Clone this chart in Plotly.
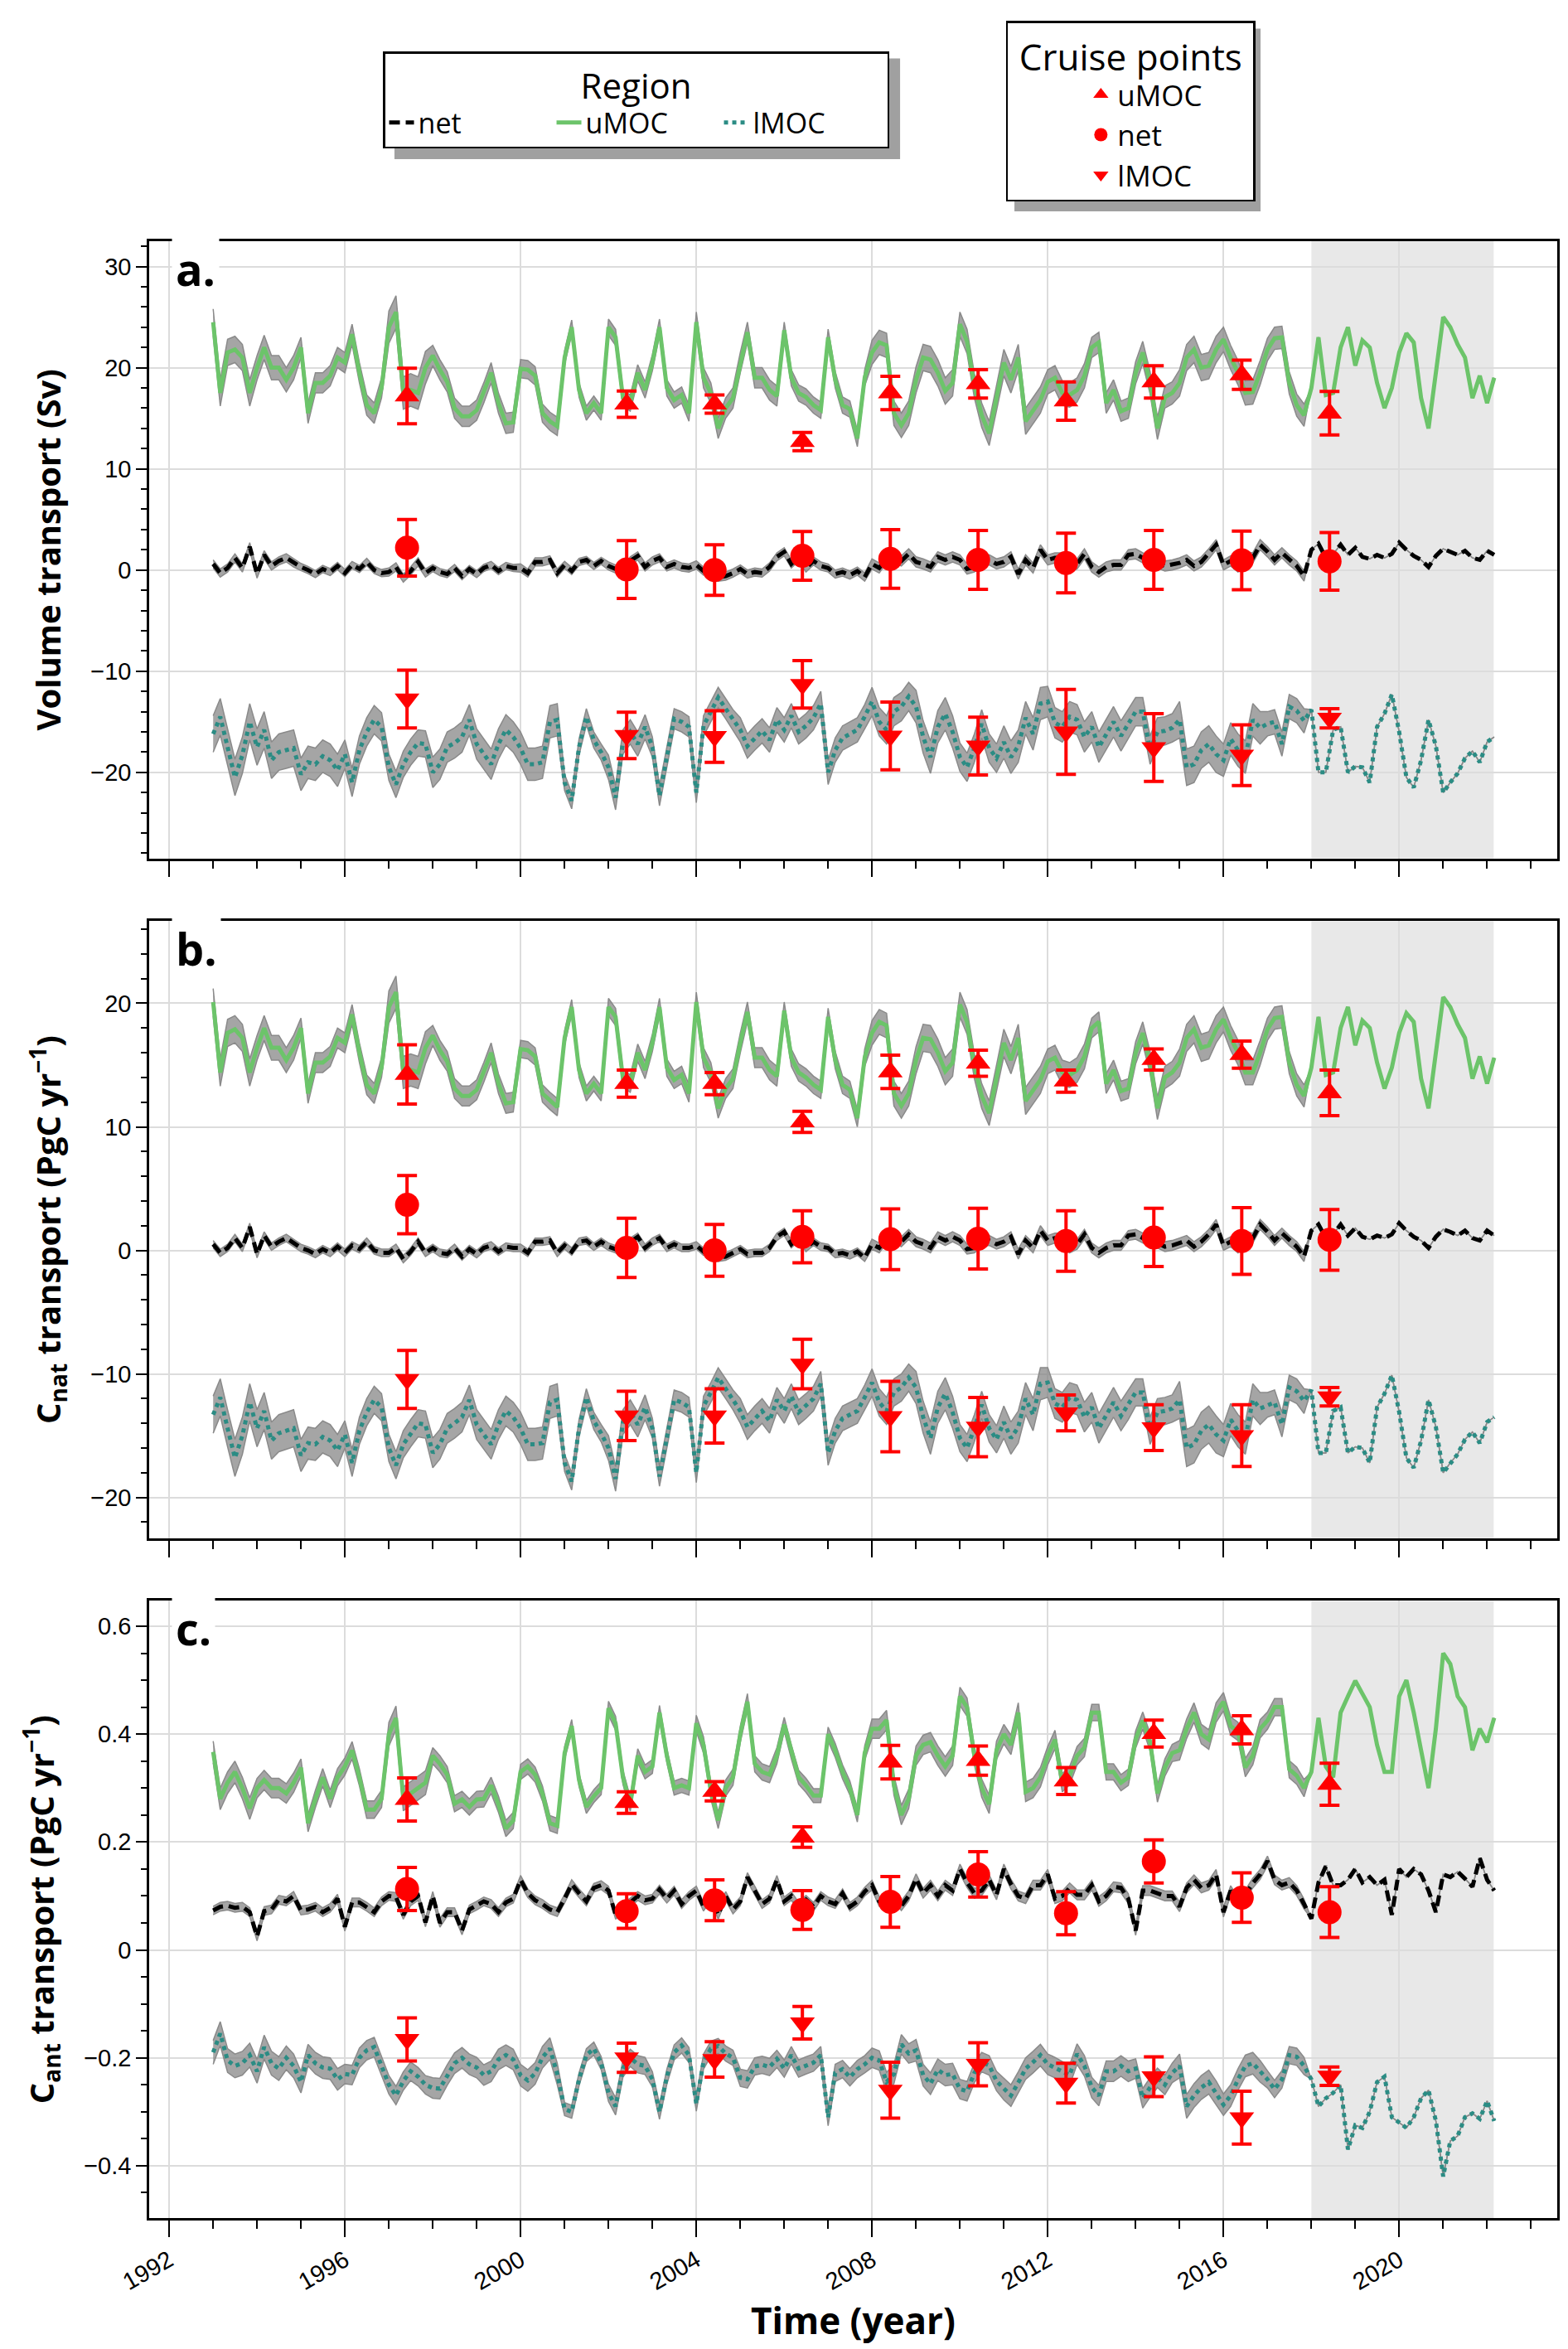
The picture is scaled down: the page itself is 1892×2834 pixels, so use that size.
import pandas as pd
import plotly.graph_objects as go
from plotly.subplots import make_subplots

# bimonthly model output, Jan 1993 .. Mar 2022 (6 values per year)
dates = pd.date_range("1993-01-01", periods=176, freq="2MS")

# ---- panel a: volume transport (Sv)
a_umoc = [
    24.5, 17.5, 21.5, 21.8, 21.0, 17.5,
    20.0, 22.0, 20.0, 20.0, 18.8, 20.0,
    22.0, 15.5, 18.5, 18.5, 19.2, 21.0,
    20.5, 23.3, 19.5, 16.3, 15.5, 18.0,
    24.0, 25.5, 17.5, 17.8, 17.5, 20.0,
    21.2, 19.8, 18.6, 16.0, 15.2, 15.2,
    15.8, 17.5, 19.5, 16.5, 14.5, 14.6,
    19.9, 19.8, 19.2, 15.5, 14.7, 14.2,
    21.0, 24.0, 17.8, 15.5, 16.5, 15.5,
    24.0, 23.0, 17.0, 16.5, 19.5, 17.8,
    20.5, 24.0, 18.0, 16.8, 17.3, 15.5,
    24.5, 19.0, 17.5, 14.0, 16.0, 17.0,
    20.5, 23.5, 19.0, 19.0, 17.8, 17.2,
    23.7, 19.0, 17.5, 17.1, 16.3, 15.8,
    23.0, 18.8, 16.3, 15.9, 13.0, 19.0,
    21.5, 22.5, 22.2, 15.5, 14.3, 15.5,
    18.8, 21.0, 20.8, 19.5, 17.7, 18.5,
    24.3, 22.6, 18.2, 15.3, 13.5, 17.0,
    20.5, 18.8, 21.0, 14.7, 15.8, 16.8,
    18.6, 19.0, 17.5, 17.3, 17.8, 19.2,
    22.0, 22.5, 16.5, 17.8, 15.7, 16.0,
    19.5, 21.5, 18.5, 14.0, 17.1, 17.5,
    18.5, 21.0, 21.8, 20.0, 20.2, 21.8,
    22.8, 21.0, 19.5, 17.5, 17.6, 19.5,
    21.8, 22.9, 23.0, 18.5, 16.3, 15.3,
    18.0, 23.0, 17.3, 17.5, 22.0, 24.0,
    20.2, 22.7, 22.0, 18.5, 16.0, 18.0,
    21.5, 23.4, 22.5, 17.0, 14.0, 19.5,
    25.0, 24.0, 22.3, 21.0, 17.0, 19.2,
    16.5, 19.0,
]
a_net = [
    0.6, -0.3, 0.2, 1.2, 0.2, 2.3,
    -0.4, 1.5, 0.4, 0.9, 1.2, 0.7,
    0.3, 0.0, -0.4, 0.1, -0.2, 0.4,
    -0.3, 0.5, 0.1, 0.8, 0.0, -0.3,
    -0.2, 0.3, -0.8, -0.1, 0.8, -0.3,
    0.2, -0.2, -0.4, 0.2, -0.6, 0.1,
    -0.4, 0.2, 0.5, -0.1, 0.4, 0.2,
    0.2, -0.3, 0.8, 0.8, 1.0, -0.3,
    0.5, -0.1, 0.8, 1.0, 0.4, 0.9,
    0.4, 0.1, -0.4, 0.9, 1.4, 0.3,
    0.9, 1.2, 0.3, 0.6, 0.3, 0.2,
    0.5, -0.1, 0.3, -0.7, -0.6, -0.3,
    0.1, -0.4, -0.2, -0.3, 0.3, 1.3,
    1.8, 0.6, 1.3, 0.2, 0.9, 0.4,
    0.2, -0.4, -0.2, -0.5, -0.1, -0.7,
    0.6, 0.2, 1.2, 1.2, 0.9, 1.6,
    0.8, 0.6, 0.3, 1.3, 1.0, 1.3,
    1.0, 0.1, 0.3, 0.9, 1.0, 0.6,
    0.8, 1.3, -0.4, 1.0, 0.2, 2.0,
    1.0, 1.2, 1.2, 0.3, 0.6, 1.6,
    0.3, -0.2, 0.3, 0.5, 0.5, 1.5,
    1.6, 1.2, 1.0, 0.7, 0.4, 0.5,
    0.7, 1.0, 0.4, 0.8, 1.6, 2.5,
    0.5, 0.9, 0.3, 1.3, 1.2, 2.5,
    1.8, 1.0, 1.7, 1.0, 0.4, -0.6,
    2.0, 2.6, 1.2, 1.6, 2.5, 1.5,
    2.2, 1.3, 1.1, 1.5, 1.2, 1.6,
    2.7, 2.0, 1.4, 1.0, 0.3, 1.4,
    2.1, 1.8, 1.5, 1.9, 1.2, 1.0,
    1.9, 1.5,
]
a_lmoc = [
    -16.2, -14.5, -17.5, -20.5, -18.3, -15.0,
    -17.5, -15.8, -18.8, -18.0, -17.8, -17.6,
    -20.2, -19.0, -19.2, -18.4, -18.8, -19.8,
    -18.2, -21.0, -17.8, -16.0, -14.8, -15.5,
    -19.5, -21.2, -19.2, -18.0, -17.1, -17.2,
    -20.0, -19.2, -17.5, -17.1, -16.5, -14.8,
    -17.2, -18.2, -19.2, -17.2, -15.8, -16.5,
    -17.6, -19.2, -19.2, -19.0, -15.0, -14.8,
    -21.0, -22.8, -17.5, -14.5, -16.8, -18.0,
    -19.5, -22.5, -17.0, -16.0, -17.2, -15.5,
    -17.5, -22.3, -18.5, -14.7, -15.0, -15.5,
    -22.0, -15.4, -14.0, -12.6, -13.7, -14.8,
    -15.8, -17.4, -16.6, -15.9, -16.8, -14.8,
    -15.8, -14.4, -16.0, -15.4, -14.6, -13.2,
    -20.0, -17.8, -16.6, -16.2, -15.8, -14.5,
    -13.0, -15.0, -15.8, -14.0, -13.5, -12.5,
    -13.5, -16.5, -18.5, -15.5, -14.2, -16.0,
    -18.5, -19.5, -17.6, -15.2, -17.6, -18.6,
    -17.0, -18.5, -17.4, -14.6, -16.2, -13.2,
    -13.0, -15.1, -15.5, -14.5, -14.8, -16.5,
    -15.5, -17.5, -16.2, -15.0, -16.4, -15.2,
    -14.0, -14.0, -17.8, -16.0, -15.9, -15.6,
    -14.8, -19.5, -19.2, -17.8, -17.2, -18.2,
    -18.8, -16.7, -17.8, -18.5, -14.8, -15.6,
    -15.2, -15.0, -17.2, -13.5, -13.9, -14.9,
    -13.8, -20.0, -20.0, -15.8, -15.5, -20.0,
    -19.4, -19.5, -21.0, -15.5, -14.2, -12.3,
    -16.0, -20.5, -21.5, -18.8, -14.8, -17.4,
    -22.0, -21.0, -20.1, -18.6, -17.9, -19.0,
    -17.0, -16.5,
]

# ---- panel b: Cnat transport (PgC/yr)
b_umoc = [
    20.1, 14.4, 17.6, 17.9, 17.2, 14.4,
    16.4, 18.0, 16.4, 16.4, 15.4, 16.4,
    18.0, 12.7, 15.2, 15.2, 15.7, 17.2,
    16.8, 19.1, 16.0, 13.4, 12.7, 14.8,
    19.7, 20.9, 14.4, 14.6, 14.4, 16.4,
    17.4, 16.2, 15.3, 13.1, 12.5, 12.5,
    13.0, 14.4, 16.0, 13.5, 11.9, 12.0,
    16.3, 16.2, 15.7, 12.7, 12.1, 11.6,
    17.2, 19.7, 14.6, 12.7, 13.5, 12.7,
    19.7, 18.9, 13.9, 13.5, 16.0, 14.6,
    16.8, 19.7, 14.8, 13.8, 14.2, 12.7,
    20.1, 15.6, 14.4, 11.5, 13.1, 13.9,
    16.8, 19.3, 15.6, 15.6, 14.6, 14.1,
    19.4, 15.6, 14.4, 14.0, 13.4, 13.0,
    18.9, 15.4, 13.4, 13.0, 10.7, 15.6,
    17.6, 18.5, 18.2, 12.7, 11.7, 12.7,
    15.4, 17.2, 17.1, 16.0, 14.5, 15.2,
    19.9, 18.5, 14.9, 12.5, 11.1, 13.9,
    16.8, 15.4, 17.2, 12.1, 13.0, 13.8,
    15.3, 15.6, 14.4, 14.2, 14.6, 15.7,
    18.0, 18.5, 13.5, 14.6, 12.9, 13.1,
    16.0, 17.6, 15.2, 11.5, 14.0, 14.4,
    15.2, 17.2, 17.9, 16.4, 16.6, 17.9,
    18.7, 17.2, 16.0, 14.4, 14.4, 16.0,
    17.9, 18.8, 18.9, 15.2, 13.4, 12.5,
    14.8, 18.9, 14.2, 14.4, 18.0, 19.7,
    16.6, 18.6, 18.0, 15.2, 13.1, 14.8,
    17.6, 19.2, 18.5, 13.9, 11.5, 16.0,
    20.5, 19.7, 18.3, 17.2, 13.9, 15.7,
    13.5, 15.6,
]
b_net = [
    0.5, -0.2, 0.2, 1.0, 0.2, 1.9,
    -0.3, 1.2, 0.3, 0.7, 1.0, 0.6,
    0.2, 0.0, -0.3, 0.1, -0.2, 0.3,
    -0.2, 0.4, 0.1, 0.7, 0.0, -0.2,
    -0.2, 0.2, -0.7, -0.1, 0.7, -0.2,
    0.2, -0.2, -0.3, 0.2, -0.5, 0.1,
    -0.3, 0.2, 0.4, -0.1, 0.3, 0.2,
    0.2, -0.2, 0.7, 0.7, 0.8, -0.2,
    0.4, -0.1, 0.7, 0.8, 0.3, 0.7,
    0.3, 0.1, -0.3, 0.7, 1.1, 0.2,
    0.7, 1.0, 0.2, 0.5, 0.2, 0.2,
    0.4, -0.1, 0.2, -0.6, -0.5, -0.2,
    0.1, -0.3, -0.2, -0.2, 0.2, 1.1,
    1.5, 0.5, 1.1, 0.2, 0.7, 0.3,
    0.2, -0.3, -0.2, -0.4, -0.1, -0.6,
    0.5, 0.2, 1.0, 1.0, 0.7, 1.3,
    0.7, 0.5, 0.2, 1.1, 0.8, 1.1,
    0.8, 0.1, 0.2, 0.7, 0.8, 0.5,
    0.7, 1.1, -0.3, 0.8, 0.2, 1.6,
    0.8, 1.0, 1.0, 0.2, 0.5, 1.3,
    0.2, -0.2, 0.2, 0.4, 0.4, 1.2,
    1.3, 1.0, 0.8, 0.6, 0.3, 0.4,
    0.6, 0.8, 0.3, 0.7, 1.3, 2.1,
    0.4, 0.7, 0.2, 1.1, 1.0, 2.1,
    1.5, 0.8, 1.4, 0.8, 0.3, -0.5,
    1.6, 2.1, 1.0, 1.3, 2.1, 1.2,
    1.8, 1.1, 0.9, 1.2, 1.0, 1.3,
    2.2, 1.6, 1.1, 0.8, 0.2, 1.1,
    1.7, 1.5, 1.2, 1.6, 1.0, 0.8,
    1.6, 1.2,
]
b_lmoc = [
    -13.3, -11.9, -14.4, -16.8, -15.0, -12.3,
    -14.4, -13.0, -15.4, -14.8, -14.6, -14.4,
    -16.6, -15.6, -15.7, -15.1, -15.4, -16.2,
    -14.9, -17.2, -14.6, -13.1, -12.1, -12.7,
    -16.0, -17.4, -15.7, -14.8, -14.0, -14.1,
    -16.4, -15.7, -14.4, -14.0, -13.5, -12.1,
    -14.1, -14.9, -15.7, -14.1, -13.0, -13.5,
    -14.4, -15.7, -15.7, -15.6, -12.3, -12.1,
    -17.2, -18.7, -14.4, -11.9, -13.8, -14.8,
    -16.0, -18.5, -13.9, -13.1, -14.1, -12.7,
    -14.4, -18.3, -15.2, -12.1, -12.3, -12.7,
    -18.0, -12.6, -11.5, -10.3, -11.2, -12.1,
    -13.0, -14.3, -13.6, -13.0, -13.8, -12.1,
    -13.0, -11.8, -13.1, -12.6, -12.0, -10.8,
    -16.4, -14.6, -13.6, -13.3, -13.0, -11.9,
    -10.7, -12.3, -13.0, -11.5, -11.1, -10.3,
    -11.1, -13.5, -15.2, -12.7, -11.6, -13.1,
    -15.2, -16.0, -14.4, -12.5, -14.4, -15.3,
    -13.9, -15.2, -14.3, -12.0, -13.3, -10.8,
    -10.7, -12.4, -12.7, -11.9, -12.1, -13.5,
    -12.7, -14.4, -13.3, -12.3, -13.4, -12.5,
    -11.5, -11.5, -14.6, -13.1, -13.0, -12.8,
    -12.1, -16.0, -15.7, -14.6, -14.1, -14.9,
    -15.4, -13.7, -14.6, -15.2, -12.1, -12.8,
    -12.5, -12.3, -14.1, -11.1, -11.4, -12.2,
    -11.3, -16.4, -16.4, -13.0, -12.7, -16.4,
    -15.9, -16.0, -17.2, -12.7, -11.6, -10.1,
    -13.1, -16.8, -17.6, -15.4, -12.1, -14.3,
    -18.0, -17.2, -16.5, -15.3, -14.7, -15.6,
    -13.9, -13.5,
]

# ---- panel c: Cant transport (PgC/yr)
c_umoc = [
    0.367, 0.28, 0.31, 0.33, 0.30, 0.262,
    0.30, 0.315, 0.30, 0.30, 0.29, 0.31,
    0.338, 0.235, 0.28, 0.32, 0.28, 0.32,
    0.34, 0.37, 0.32, 0.26, 0.26, 0.28,
    0.40, 0.43, 0.28, 0.29, 0.30, 0.31,
    0.36, 0.345, 0.325, 0.271, 0.279, 0.265,
    0.279, 0.28, 0.305, 0.27, 0.225, 0.24,
    0.33, 0.34, 0.325, 0.29, 0.235, 0.23,
    0.365, 0.415, 0.315, 0.265, 0.285, 0.30,
    0.448, 0.42, 0.32, 0.27, 0.36, 0.33,
    0.34, 0.44, 0.36, 0.30, 0.305, 0.30,
    0.42, 0.38, 0.295, 0.24, 0.30, 0.32,
    0.40, 0.46, 0.345, 0.33, 0.325, 0.36,
    0.418, 0.367, 0.32, 0.305, 0.286, 0.286,
    0.40, 0.37, 0.33, 0.30, 0.25, 0.365,
    0.41, 0.41, 0.426, 0.305, 0.25, 0.28,
    0.36, 0.38, 0.385, 0.36, 0.34, 0.36,
    0.47, 0.45, 0.36, 0.30, 0.27, 0.37,
    0.40, 0.38, 0.44, 0.293, 0.30, 0.32,
    0.36, 0.39, 0.31, 0.323, 0.36, 0.375,
    0.44, 0.44, 0.33, 0.33, 0.31, 0.32,
    0.39, 0.425, 0.385, 0.29, 0.338, 0.365,
    0.37, 0.41, 0.44, 0.40, 0.39, 0.44,
    0.46, 0.415, 0.405, 0.338, 0.36, 0.41,
    0.425, 0.45, 0.45, 0.335, 0.323, 0.30,
    0.33, 0.43, 0.34, 0.32, 0.44, 0.47,
    0.499, 0.475, 0.45, 0.38, 0.33, 0.33,
    0.47, 0.50, 0.44, 0.37, 0.30, 0.41,
    0.55, 0.53, 0.47, 0.45, 0.37, 0.41,
    0.385, 0.43,
]
c_net = [
    0.073, 0.08, 0.082, 0.078, 0.08, 0.07,
    0.025, 0.072, 0.075, 0.093, 0.09, 0.10,
    0.073, 0.075, 0.08, 0.07, 0.078, 0.095,
    0.043, 0.088, 0.088, 0.08, 0.07, 0.09,
    0.10, 0.098, 0.065, 0.09, 0.10, 0.051,
    0.10, 0.05, 0.07, 0.07, 0.036, 0.075,
    0.082, 0.09, 0.085, 0.07, 0.088, 0.095,
    0.13, 0.105, 0.092, 0.085, 0.075, 0.07,
    0.095, 0.122, 0.105, 0.09, 0.115, 0.12,
    0.11, 0.065, 0.08, 0.088, 0.10, 0.092,
    0.095, 0.112, 0.095, 0.11, 0.085, 0.10,
    0.11, 0.08, 0.10, 0.065, 0.10, 0.075,
    0.09, 0.135, 0.11, 0.085, 0.095, 0.13,
    0.09, 0.10, 0.08, 0.093, 0.08, 0.10,
    0.09, 0.085, 0.105, 0.08, 0.09, 0.108,
    0.12, 0.09, 0.085, 0.10, 0.082, 0.10,
    0.132, 0.105, 0.12, 0.10, 0.12, 0.11,
    0.15, 0.125, 0.105, 0.11, 0.13, 0.102,
    0.15, 0.122, 0.10, 0.095, 0.12, 0.12,
    0.14, 0.095, 0.10, 0.115, 0.102, 0.102,
    0.12, 0.09, 0.10, 0.117, 0.115, 0.095,
    0.036, 0.11, 0.11, 0.105, 0.10, 0.10,
    0.08, 0.115, 0.13, 0.115, 0.12, 0.14,
    0.07, 0.11, 0.088, 0.102, 0.124, 0.14,
    0.165, 0.13, 0.12, 0.125, 0.11, 0.085,
    0.058, 0.125, 0.155, 0.12, 0.12, 0.13,
    0.15, 0.125, 0.135, 0.12, 0.13, 0.065,
    0.15, 0.135, 0.15, 0.14, 0.11, 0.07,
    0.14, 0.135, 0.145, 0.132, 0.117, 0.17,
    0.13, 0.11,
]
c_lmoc = [
    -0.19, -0.155, -0.205, -0.215, -0.21, -0.195,
    -0.225, -0.18, -0.21, -0.22, -0.20, -0.215,
    -0.245, -0.195, -0.21, -0.218, -0.22, -0.24,
    -0.23, -0.232, -0.20, -0.186, -0.18, -0.215,
    -0.25, -0.27, -0.243, -0.225, -0.235, -0.25,
    -0.256, -0.257, -0.232, -0.21, -0.20, -0.212,
    -0.218, -0.232, -0.225, -0.203, -0.195, -0.203,
    -0.232, -0.242, -0.229, -0.199, -0.183, -0.23,
    -0.295, -0.30, -0.24, -0.195, -0.183, -0.21,
    -0.265, -0.29, -0.22, -0.20, -0.212, -0.215,
    -0.24, -0.30, -0.235, -0.19, -0.177, -0.195,
    -0.285, -0.207, -0.183, -0.178, -0.192, -0.20,
    -0.237, -0.24, -0.216, -0.213, -0.217, -0.202,
    -0.22, -0.195, -0.22, -0.214, -0.209, -0.195,
    -0.31, -0.228, -0.221, -0.236, -0.221, -0.212,
    -0.20, -0.205, -0.245, -0.23, -0.175, -0.192,
    -0.186, -0.232, -0.248, -0.222, -0.232, -0.23,
    -0.258, -0.262, -0.228, -0.208, -0.214, -0.243,
    -0.258, -0.27, -0.246, -0.22, -0.208, -0.195,
    -0.212, -0.218, -0.226, -0.232, -0.193, -0.215,
    -0.255, -0.27, -0.225, -0.225, -0.215, -0.225,
    -0.22, -0.275, -0.255, -0.237, -0.25, -0.228,
    -0.215, -0.29, -0.27, -0.255, -0.245, -0.265,
    -0.287, -0.27, -0.24, -0.215, -0.21, -0.225,
    -0.24, -0.258, -0.24, -0.195, -0.198, -0.215,
    -0.24, -0.29, -0.275, -0.265, -0.25, -0.37,
    -0.325, -0.33, -0.30, -0.245, -0.235, -0.31,
    -0.32, -0.33, -0.31, -0.275, -0.26, -0.317,
    -0.42, -0.354, -0.345, -0.31, -0.303, -0.313,
    -0.28, -0.317,
]

# ensemble half-spread per year 1993..2022 (no ensemble after 2018)
a_umoc_sd = [1.3, 1.2, 1.0, 1.0, 1.6, 1.0, 1.0, 0.9, 0.7, 0.8, 0.8, 1.0, 1.0, 0.8, 0.8,
             1.2, 1.3, 1.2, 1.3, 1.2, 1.0, 1.1, 1.3, 1.2, 1.1, 0, 0, 0, 0, 0]
a_net_sd = [0.4, 0.4, 0.35, 0.35, 0.4, 0.35, 0.35, 0.4, 0.35, 0.4, 0.4, 0.4, 0.4, 0.4, 0.4,
            0.5, 0.5, 0.5, 0.5, 0.5, 0.5, 0.5, 0.5, 0.5, 0.5, 0, 0, 0, 0, 0]
a_lmoc_sd = [1.8, 1.8, 1.6, 1.4, 1.3, 1.5, 1.5, 1.6, 0.8, 1.2, 1.0, 1.0, 1.2, 1.2, 1.2,
             1.4, 1.6, 1.4, 1.6, 1.5, 1.5, 1.4, 1.8, 1.6, 1.2, 0, 0, 0, 0, 0]
b_umoc_sd = [1.1, 1.0, 0.8, 0.8, 1.3, 0.8, 0.8, 0.7, 0.6, 0.7, 0.7, 0.8, 0.8, 0.7, 0.7,
             1.0, 1.1, 1.0, 1.1, 1.0, 0.8, 0.9, 1.1, 1.0, 0.9, 0, 0, 0, 0, 0]
b_net_sd = [0.3, 0.3, 0.3, 0.3, 0.3, 0.3, 0.3, 0.3, 0.3, 0.3, 0.3, 0.3, 0.3, 0.3, 0.3,
            0.4, 0.4, 0.4, 0.4, 0.4, 0.4, 0.4, 0.4, 0.4, 0.4, 0, 0, 0, 0, 0]
b_lmoc_sd = [1.5, 1.5, 1.3, 1.1, 1.1, 1.2, 1.2, 1.3, 0.7, 1.0, 0.8, 0.8, 1.0, 1.0, 1.0,
             1.1, 1.3, 1.1, 1.3, 1.2, 1.2, 1.1, 1.5, 1.3, 1.0, 0, 0, 0, 0, 0]
c_umoc_sd = [0.02, 0.018, 0.016, 0.016, 0.022, 0.015, 0.015, 0.014, 0.012, 0.013, 0.013, 0.015,
             0.015, 0.013, 0.013, 0.018, 0.018, 0.017, 0.018, 0.017, 0.015, 0.016, 0.018, 0.017,
             0.016, 0, 0, 0, 0, 0]
c_net_sd = [0.008, 0.008, 0.008, 0.008, 0.008, 0.008, 0.008, 0.008, 0.008, 0.008, 0.008, 0.008,
            0.008, 0.008, 0.008, 0.009, 0.009, 0.009, 0.009, 0.009, 0.009, 0.009, 0.009, 0.009,
            0.009, 0, 0, 0, 0, 0]
c_lmoc_sd = [0.022, 0.022, 0.02, 0.018, 0.017, 0.019, 0.019, 0.02, 0.012, 0.016, 0.014, 0.014,
             0.016, 0.016, 0.016, 0.018, 0.02, 0.018, 0.02, 0.019, 0.019, 0.018, 0.022, 0.02,
             0.016, 0, 0, 0, 0, 0]

# ---- cruise estimates (value, error)
cruise_dates = ["1997-06-01", "2002-06-01", "2004-06-01", "2006-06-01", "2008-06-01",
                "2010-06-01", "2012-06-01", "2014-06-01", "2016-06-01", "2018-06-01"]
a_cr_umoc = [17.2, 16.4, 16.4, 12.7, 17.5, 18.4, 16.7, 18.6, 19.3, 15.5]
a_cr_umoc_err = [2.75, 1.3, 0.9, 0.9, 1.65, 1.4, 1.9, 1.6, 1.45, 2.15]
a_cr_net = [2.2, 0.05, 0.0, 1.4, 1.1, 1.0, 0.7, 1.0, 0.95, 0.85]
a_cr_net_err = [2.8, 2.85, 2.5, 2.4, 2.9, 2.9, 2.95, 2.9, 2.9, 2.85]
a_cr_lmoc = [-12.75, -16.35, -16.45, -11.3, -16.4, -17.4, -16.0, -17.55, -18.3, -14.65]
a_cr_lmoc_err = [2.85, 2.3, 2.55, 2.35, 3.35, 2.85, 4.2, 3.35, 3.0, 0.95]

b_cr_umoc = [14.25, 13.5, 13.5, 10.4, 14.45, 15.15, 13.7, 15.45, 15.85, 12.75]
b_cr_umoc_err = [2.4, 1.1, 0.9, 0.85, 1.35, 1.05, 0.9, 0.85, 1.1, 1.85]
b_cr_net = [3.7, 0.2, 0.0, 1.1, 0.9, 0.95, 0.75, 1.05, 0.75, 0.85]
b_cr_net_err = [2.35, 2.4, 2.1, 2.1, 2.45, 2.45, 2.45, 2.35, 2.7, 2.45]
b_cr_lmoc = [-10.45, -13.4, -13.4, -9.2, -13.45, -14.3, -13.15, -14.35, -15.0, -11.85]
b_cr_lmoc_err = [2.35, 2.0, 2.2, 2.0, 2.85, 2.4, 1.45, 1.85, 2.5, 0.75]

c_cr_umoc = [0.279, 0.273, 0.294, 0.209, 0.348, 0.351, 0.313, 0.401, 0.408, 0.307]
c_cr_umoc_err = [0.04, 0.02, 0.018, 0.019, 0.031, 0.027, 0.025, 0.025, 0.026, 0.039]
c_cr_net = [0.113, 0.072, 0.092, 0.074, 0.089, 0.14, 0.068, 0.164, 0.097, 0.07]
c_cr_net_err = [0.04, 0.032, 0.038, 0.036, 0.047, 0.042, 0.04, 0.04, 0.046, 0.047]
c_cr_lmoc = [-0.166, -0.2, -0.203, -0.135, -0.26, -0.212, -0.247, -0.235, -0.311, -0.234]
c_cr_lmoc_err = [0.04, 0.027, 0.033, 0.03, 0.052, 0.04, 0.037, 0.037, 0.049, 0.017]

y_titles = ["Volume transport (Sv)",
            "C<sub>nat</sub> transport (PgC yr<sup>\u22121</sup>)",
            "C<sub>ant</sub> transport (PgC yr<sup>\u22121</sup>)"]
panel_tags = ["a.", "b.", "c."]

GREEN = "#6cc46a"
TEAL = "#2b8c84"
RED = "#ff0000"
BAND = "rgba(135,135,135,0.75)"

panels = [
    dict(umoc=a_umoc, net=a_net, lmoc=a_lmoc, sd=(a_umoc_sd, a_net_sd, a_lmoc_sd),
         cr=((a_cr_umoc, a_cr_umoc_err), (a_cr_net, a_cr_net_err), (a_cr_lmoc, a_cr_lmoc_err)),
         rng=[-28.5, 32.5], dtick=10, minor=2),
    dict(umoc=b_umoc, net=b_net, lmoc=b_lmoc, sd=(b_umoc_sd, b_net_sd, b_lmoc_sd),
         cr=((b_cr_umoc, b_cr_umoc_err), (b_cr_net, b_cr_net_err), (b_cr_lmoc, b_cr_lmoc_err)),
         rng=[-23.3, 26.66], dtick=10, minor=2),
    dict(umoc=c_umoc, net=c_net, lmoc=c_lmoc, sd=(c_umoc_sd, c_net_sd, c_lmoc_sd),
         cr=((c_cr_umoc, c_cr_umoc_err), (c_cr_net, c_cr_net_err), (c_cr_lmoc, c_cr_lmoc_err)),
         rng=[-0.497, 0.647], dtick=0.2, minor=0.05),
]


def band(vals, sd):
    hi = [v + sd[d.year - 1993] for v, d in zip(vals, dates)]
    lo = [v - sd[d.year - 1993] for v, d in zip(vals, dates)]
    return hi, lo


fig = make_subplots(rows=3, cols=1, shared_xaxes=True, vertical_spacing=0.0317)

for row, p in enumerate(panels, start=1):
    first = row == 1
    # gray ensemble envelopes
    for vals, sd in zip((p["umoc"], p["net"], p["lmoc"]), p["sd"]):
        hi, lo = band(vals, sd)
        fig.add_trace(go.Scatter(x=dates, y=hi, mode="lines", line=dict(color="#8a8a8a", width=1.5),
                                 showlegend=False, hoverinfo="skip"), row=row, col=1)
        fig.add_trace(go.Scatter(x=dates, y=lo, mode="lines", line=dict(color="#8a8a8a", width=1.5),
                                 fill="tonexty", fillcolor=BAND, showlegend=False, hoverinfo="skip"),
                      row=row, col=1)
    # model lines
    fig.add_trace(go.Scatter(x=dates, y=p["net"], name="net", mode="lines", legend="legend",
                             line=dict(color="black", width=5, dash="13px,7px"),
                             legendgroup="net", showlegend=first), row=row, col=1)
    fig.add_trace(go.Scatter(x=dates, y=p["umoc"], name="uMOC", mode="lines", legend="legend",
                             line=dict(color=GREEN, width=5),
                             legendgroup="umoc", showlegend=first), row=row, col=1)
    fig.add_trace(go.Scatter(x=dates, y=p["lmoc"], name="lMOC", mode="lines", legend="legend",
                             line=dict(color=TEAL, width=5, dash="5px,5px"),
                             legendgroup="lmoc", showlegend=first), row=row, col=1)
    # cruise points
    for (vals, err), name, sym, size in zip(p["cr"], ["uMOC", "net", "lMOC"],
                                            ["triangle-up", "circle", "triangle-down"], [26, 29, 26]):
        fig.add_trace(go.Scatter(x=cruise_dates, y=vals, name=name, mode="markers", legend="legend2",
                                 marker=dict(symbol=sym, size=size, color=RED),
                                 error_y=dict(type="data", array=err, color=RED, thickness=4, width=12),
                                 legendgroup="cr_" + name, showlegend=first), row=row, col=1)

    fig.update_yaxes(range=p["rng"], dtick=p["dtick"], row=row, col=1,
                     minor=dict(dtick=p["minor"], ticks="outside", ticklen=7, tickwidth=2,
                                tickcolor="black", showgrid=False),
                     title=dict(text=y_titles[row - 1], standoff=24,
                                font=dict(family="Open Sans", size=40, weight="bold", color="black")))
    fig.add_shape(type="rect", xref="x" if row == 1 else "x%d" % row,
                  yref="y domain" if row == 1 else "y%d domain" % row,
                  x0="2018-01-01", x1="2022-02-25", y0=0, y1=1,
                  fillcolor="#e8e8e8", line_width=0, layer="below")
    fig.add_annotation(text=panel_tags[row - 1], xref="x domain" if row == 1 else "x%d domain" % row,
                       yref="y domain" if row == 1 else "y%d domain" % row,
                       x=0.016, y=1.012, xanchor="left", yanchor="top", showarrow=False,
                       bgcolor="white", borderpad=4,
                       font=dict(family="Open Sans", size=54, weight="bold", color="black"))

fig.update_yaxes(showline=True, linecolor="black", linewidth=2.5, mirror=True,
                 ticks="outside", ticklen=13, tickwidth=2, tickcolor="black",
                 showgrid=True, gridcolor="#dcdcdc", gridwidth=2, zeroline=False,
                 tickfont=dict(family="Liberation Sans", size=29, color="black"))
fig.update_xaxes(type="date", range=["1991-07-19", "2023-08-07"],
                 tick0="1992-01-01", dtick="M48", tickformat="%Y", tickangle=-30,
                 showline=True, linecolor="black", linewidth=2.5, mirror=True,
                 ticks="outside", ticklen=20, tickwidth=2, tickcolor="black",
                 minor=dict(dtick="M12", ticks="outside", ticklen=10, tickwidth=2,
                            tickcolor="black", showgrid=False),
                 showgrid=True, gridcolor="#dcdcdc", gridwidth=2, zeroline=False,
                 tickfont=dict(family="Liberation Sans", size=29, color="black"))
fig.update_xaxes(title=dict(text="Time (year)", standoff=18,
                            font=dict(family="Open Sans", size=44, weight="bold", color="black")),
                 row=3, col=1)

# drop shadows behind the two legend boxes (paper coords of the plot area)
for x0, x1, y0, y1 in [(0.1742, 0.5333, 1.0415, 1.0925), (0.6145, 0.7893, 1.0151, 1.1075)]:
    fig.add_shape(type="rect", xref="paper", yref="paper", x0=x0, x1=x1, y0=y0, y1=y1,
                  fillcolor="#a0a0a0", line_width=0, layer="above")

fig.update_layout(
    width=1892, height=2834,
    margin=dict(l=172, r=21, t=283, b=166),
    paper_bgcolor="white", plot_bgcolor="white",
    font=dict(family="Open Sans", size=33, color="black"),
    legend=dict(orientation="h", x=0.166, y=1.0960, xanchor="left", yanchor="top",
                title=dict(text="Region", side="top center", font=dict(size=42)),
                bgcolor="white", bordercolor="black", borderwidth=2.5,
                font=dict(family="Open Sans", size=34), entrywidth=157, traceorder="normal"),
    legend2=dict(orientation="v", x=0.6085, y=1.1115, xanchor="left", yanchor="top",
                 title=dict(text="\u00a0Cruise points\u00a0", side="top", font=dict(size=44)),
                 bgcolor="white", bordercolor="black", borderwidth=2.5, indentation=92,
                 font=dict(family="Open Sans", size=35), traceorder="normal"),
    hovermode=False,
)

fig.write_html("out.html")
